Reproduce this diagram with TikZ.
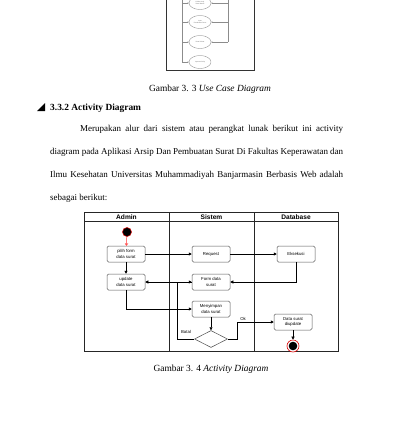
\documentclass[tikz,border=0pt]{standalone}
\usepackage{fontspec}
\setmainfont{Liberation Serif}
\newfontfamily\diag{Liberation Sans}
\usetikzlibrary{arrows.meta,shapes.geometric}
\begin{document}
\begin{tikzpicture}[x=1pt,y=-1pt,
 act/.style={draw=black!65, rounded corners=1.5pt, minimum width=38pt, minimum height=16pt, inner sep=0pt, align=center, font=\diag\fontsize{4.3}{5.1}\selectfont, line width=0.5pt},
 flow/.style={draw=black, line width=0.5pt, -{Triangle[length=3pt,width=3pt]}},
 uc/.style={ellipse, draw=black!50, minimum width=22pt, minimum height=13pt, inner sep=0pt, align=center, font=\diag\fontsize{1.6}{1.9}\selectfont, text=black!60, line width=0.3pt},
 ucl/.style={draw=black!45, line width=0.3pt, -{Triangle[length=1.2pt,width=1.2pt]}},
 lane/.style={draw=black!85, line width=0.6pt},
 hdr/.style={font=\diag\bfseries\fontsize{6.6}{7.5}\selectfont, inner sep=0pt},
 body/.style={font=\fontsize{9.0}{11}\selectfont, inner sep=0pt, anchor=base west},
 capt/.style={font=\fontsize{9.4}{11}\selectfont, inner sep=0pt, anchor=base},
 lbl/.style={font=\diag\fontsize{4.3}{5.1}\selectfont, inner sep=0pt},
]
\useasboundingbox[fill=white] (0,0) rectangle (414,429);

% ---- top: use case diagram fragment ----
\draw[line width=0.9pt, black!80] (166,-2) -- (166,70) -- (254,70) -- (254,-2);
\node[uc] (u1) at (200,3) {Kelola Arsip\\Surat Masuk};
\node[uc] (u2) at (200,22) {Input\\Pembuatan Surat};
\node[uc] (u3) at (200,42) {Surat Keluar};
\node[uc] (u4) at (200,62) {Laporan Arsip};
\coordinate (lt) at (182,-2);
\coordinate (rt) at (228,-2);
\draw[draw=black!45, line width=0.3pt] (lt) -- (lt |- u4.west);
\draw[ucl] (lt |- u4.west) -- (u4.west);
\draw[ucl] (u1.west -| lt) -- (u1.west);
\draw[ucl] (u2.west -| lt) -- (u2.west);
\draw[ucl] (u3.west -| lt) -- (u3.west);
\draw[draw=black!45, line width=0.3pt] (rt) -- (rt |- u3.east);
\draw[ucl] (u1.east -| rt) -- (u1.east);
\draw[ucl] (u2.east -| rt) -- (u2.east);
\draw[ucl] (u3.east -| rt) -- (u3.east);

\node[capt] (cap1) at (210,91) {Gambar 3. 3 \textit{Use Case Diagram}};

% ---- heading ----
\fill (37,111) -- (45,111) -- (45,103) -- cycle;
\node[body, font=\bfseries\fontsize{9.4}{11}\selectfont] (hd) at (50,110) {3.3.2 Activity Diagram};

% ---- paragraph ----
\node[body] (p1) at (80,131) {\makebox[263pt][s]{Merupakan alur dari sistem atau perangkat lunak berikut ini activity}};
\node[body] (p2) at (50,154) {\makebox[293pt][s]{diagram pada Aplikasi Arsip Dan Pembuatan Surat Di Fakultas Keperawatan dan}};
\node[body] (p3) at (50,177) {\makebox[293pt][s]{Ilmu Kesehatan Universitas Muhammadiyah Banjarmasin Berbasis Web adalah}};
\node[body] (p4) at (50,200) {sebagai berikut:};

% ---- activity diagram swimlanes ----
\draw[lane] (84,212) rectangle (338,351);
\draw[lane] (84,221) -- (338,221);
\draw[lane] (169,212) -- (169,351);
\draw[lane] (254,212) -- (254,351);
\node[hdr] (h1) at (126.5,216.7) {Admin};
\node[hdr] (h2) at (211.5,216.7) {Sistem};
\node[hdr] (h3) at (296,216.7) {Database};

\node[circle, fill=black, draw=red!85!black, line width=0.5pt, minimum size=9pt, inner sep=0pt] (start) at (127,232) {};
\node[act] (pilih) at (126,254) {pilih form\\data surat};
\node[act] (req) at (211,254) {Request};
\node[act] (eks) at (296,254) {Eksekusi};
\node[act] (upd) at (126,282) {update\\data surat};
\node[act] (form) at (211,282) {Form data\\surat};
\node[act] (simpan) at (211,309) {Menyimpan\\data surat};
\node[diamond, draw=black!70, line width=0.5pt, minimum width=33pt, minimum height=17pt, inner sep=0pt] (dec) at (211,339) {};
\node[act] (data) at (293,322) {Data surat\\diupdate};
\node[circle, draw=red!85!black, fill=white, line width=0.6pt, minimum size=12pt, inner sep=0pt,
  path picture={\fill[black] (path picture bounding box.center) circle (4.3pt);}] (end) at (293,346) {};

\coordinate (bl) at (177,339);
\coordinate (ok) at (237,339);

\draw[flow, draw=red!80, -{Straight Barb[length=2pt,width=3pt]}] (start) -- (pilih);
\draw[flow] (pilih) -- (req);
\draw[flow] (req) -- (eks);
\draw[flow] (pilih) -- (upd);
\draw[flow] (eks.south) |- (form.east);
\draw[flow] (form) -- (upd);
\draw[flow] (upd.south) |- (simpan.west);
\draw[flow] (simpan) -- (dec);
\draw[flow] (dec.west) -- (bl) |- (form.west);
\draw[flow] (dec.east) -- (ok) |- (data.west);
\draw[flow] (data) -- (end);
\node[lbl] (lb) at (186,332) {Batal};
\node[lbl] (lo) at (243,319) {Ok};

\node[capt] (cap2) at (211,371) {Gambar 3. 4 \textit{Activity Diagram}};
\end{tikzpicture}
\end{document}
